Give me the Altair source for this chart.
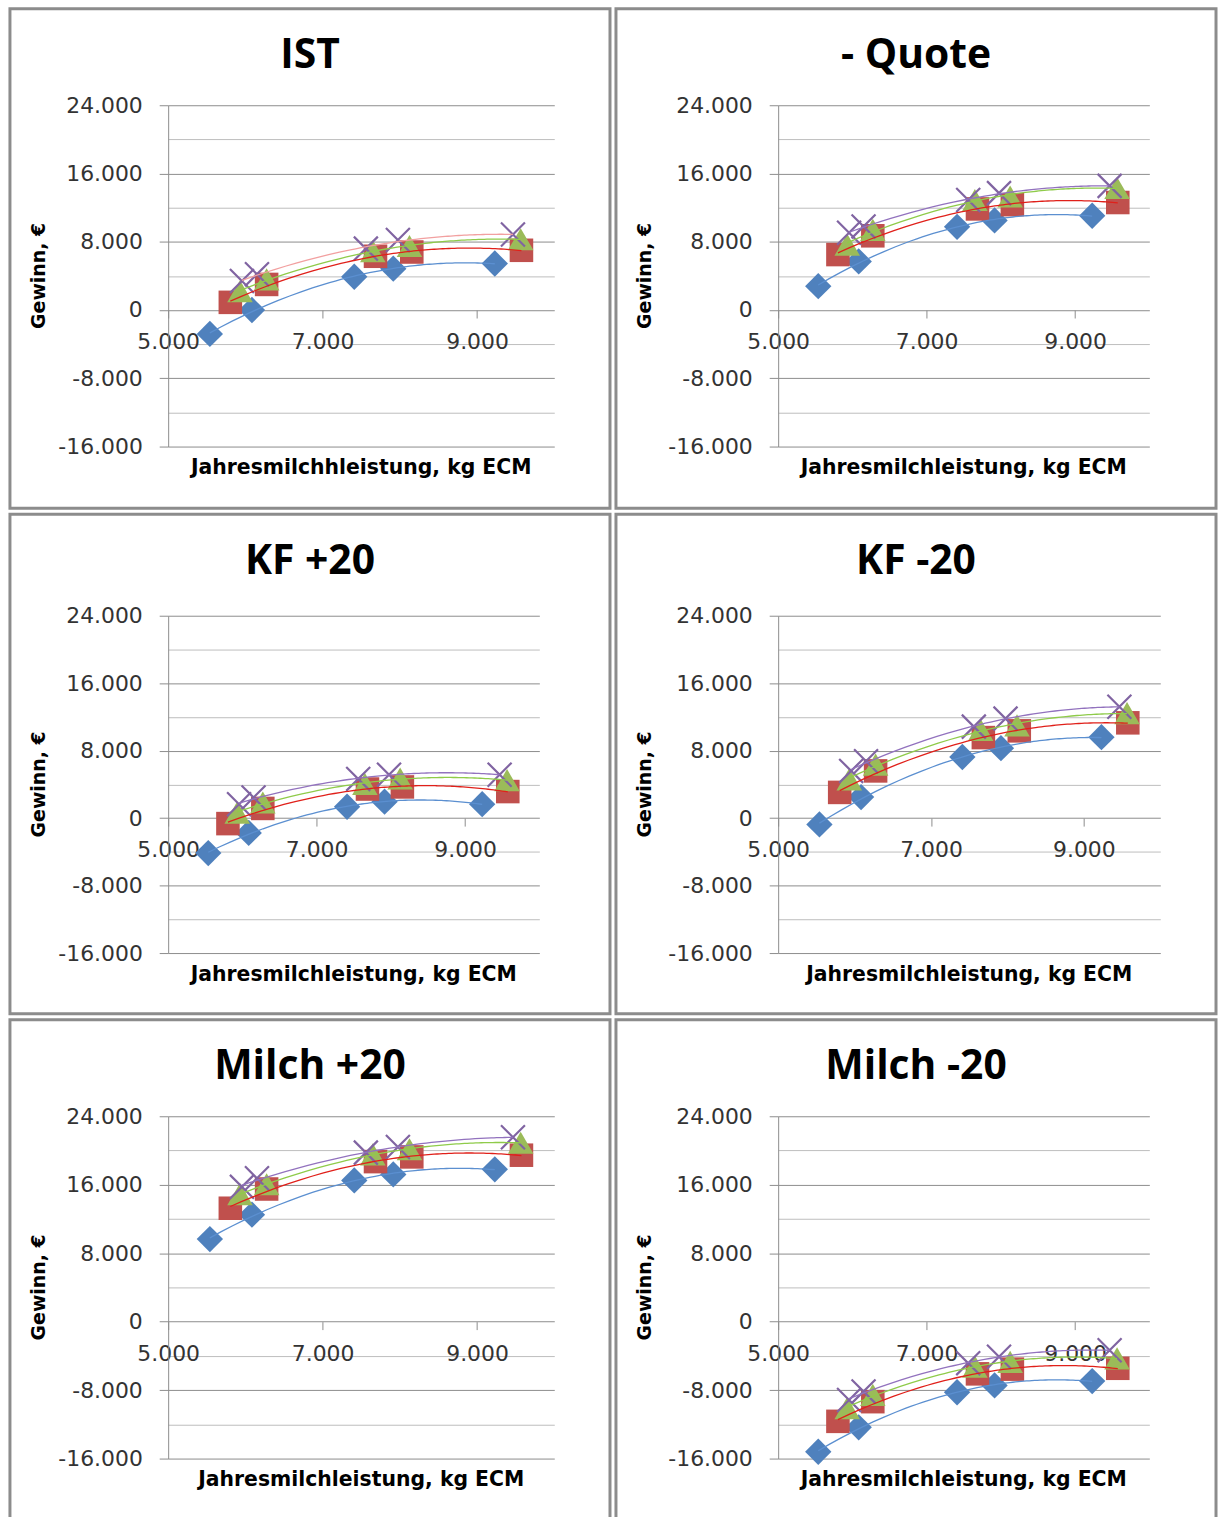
import altair as alt
import pandas as pd

# ---------------- data ----------------
panel_titles = ["IST", "- Quote", "KF +20", "KF -20", "Milch +20", "Milch -20"]
x_titles = ["Jahresmilchhleistung, kg ECM", "Jahresmilchleistung, kg ECM",
            "Jahresmilchleistung, kg ECM", "Jahresmilchleistung, kg ECM",
            "Jahresmilchleistung, kg ECM", "Jahresmilchleistung, kg ECM"]
y_title = "Gewinn, €"

# Jahresmilchleistung (kg ECM) of each group - same in every scenario
x_blue = [5540, 6085, 7410, 7915, 9230]
x_red = [5805, 6275, 7685, 8155, 9575]
x_green = [5930, 6275, 7650, 8125, 9565]
x_purple = [5955, 6150, 7560, 7975, 9465]

# Gewinn (EUR)
ist_blue = [-2800, 0, 3900, 4850, 5450]
ist_red = [900, 3000, 6300, 6800, 7000]
ist_green = [2200, 3600, 6900, 7500, 8300]
ist_purple = [3400, 4200, 7200, 8200, 8850]

quote_blue = [2800, 5700, 9750, 10500, 11050]
quote_red = [6500, 8700, 11850, 12350, 12600]
quote_green = [7650, 9400, 12900, 13300, 14300]
quote_purple = [9050, 9800, 12900, 13700, 14550]

kfp_blue = [-4150, -1750, 1350, 1950, 1650]
kfp_red = [-650, 1150, 3450, 3700, 3150]
kfp_green = [650, 1850, 4050, 4700, 4500]
kfp_purple = [1650, 2450, 4650, 5150, 5150]

kfm_blue = [-750, 2500, 7250, 8300, 9600]
kfm_red = [3050, 5600, 9550, 10350, 11300]
kfm_green = [4600, 6350, 10450, 11000, 12450]
kfm_purple = [5600, 6750, 10850, 11800, 13200]

mp_blue = [9650, 12500, 16500, 17200, 17800]
mp_red = [13250, 15500, 18700, 19250, 19450]
mp_green = [14900, 16050, 19550, 20150, 20900]
mp_purple = [15750, 16750, 19750, 20400, 21550]

mm_blue = [-15200, -12350, -8250, -7450, -6950]
mm_red = [-11650, -9350, -6100, -5550, -5450]
mm_green = [-10100, -8550, -5250, -4700, -4300]
mm_purple = [-9150, -8150, -4850, -4100, -3350]

panel_values = [
    [ist_blue, ist_red, ist_green, ist_purple],
    [quote_blue, quote_red, quote_green, quote_purple],
    [kfp_blue, kfp_red, kfp_green, kfp_purple],
    [kfm_blue, kfm_red, kfm_green, kfm_purple],
    [mp_blue, mp_red, mp_green, mp_purple],
    [mm_blue, mm_red, mm_green, mm_purple],
]
series_x = [x_blue, x_red, x_green, x_purple]

y_ticks = [-16000, -12000, -8000, -4000, 0, 4000, 8000, 12000, 16000, 20000, 24000]
x_ticks = [5000, 7000, 9000]

# ---------------- styles / layout ----------------
marker_colors = ["#4F81BD", "#C0504D", "#9BBB59", "#8064A2"]
trend_default = ["#5B8FD0", "#E0201A", "#8FCB4A", "#9272BE"]
trend_ist = ["#5B8FD0", "#E0201A", "#8FCB4A", "#F2A0A0"]
shapes = ["diamond", "square", "triangle-up", "M-1,-1L1,1M-1,1L1,-1"]
sizes = [700, 560, 660, 580]

BOX_W, BOX_H = 603, 502
# plot-left offset, plot-top offset, plot width, plot height (inside each panel box)
geoms = [
    (159, 97, 388, 343),
    (163, 97, 373, 343),
    (159, 102, 373, 339),
    (163, 102, 384, 339),
    (159, 97, 388, 344),
    (163, 97, 373, 344),
]

LABEL_FONT = "DejaVu Sans"
TITLE_FONT = "Open Sans"
GRID_MAJOR = "#8c8c8c"
GRID_MINOR = "#bdbdbd"

one_row = pd.DataFrame({"k": [0]})


def make_panel(i):
    pl, pt, w, h = geoms[i]
    trend_colors = trend_ist if i == 0 else trend_default

    xscale = alt.Scale(domain=[5000, 10000], nice=False, zero=False)
    yscale = alt.Scale(domain=[-16000, 24000], nice=False, zero=False)
    xaxis = alt.Axis(
        values=x_ticks, title=None, grid=False, domain=False,
        offset=-0.4 * h, tickColor=GRID_MAJOR, tickSize=8, labelPadding=14,
        labelFont=LABEL_FONT, labelFontSize=22, labelColor="#333333",
        labelFlush=False, labelOverlap=False,
        labelExpr="(datum.value / 1000) + '.000'",
    )
    yaxis = alt.Axis(
        values=y_ticks, title=None, grid=True,
        gridColor={"condition": {"test": "datum.value % 8000 === 0", "value": GRID_MAJOR},
                   "value": GRID_MINOR},
        tickColor={"condition": {"test": "datum.value % 8000 === 0", "value": GRID_MAJOR},
                   "value": "transparent"},
        domainColor=GRID_MAJOR, tickSize=9, labelPadding=17,
        labelFont=LABEL_FONT, labelFontSize=22, labelColor="#333333",
        labelFlush=False, labelOverlap=False,
        labelExpr="datum.value % 8000 === 0 ? (datum.value === 0 ? '0' : (datum.value / 1000) + '.000') : ''",
    )

    layers = []
    # panel frame
    layers.append(
        alt.Chart(one_row).mark_rect(fill="white", fillOpacity=0, stroke="#8c8c8c", strokeWidth=3)
        .encode(x=alt.value(-pl), x2=alt.value(BOX_W - pl),
                y=alt.value(-pt), y2=alt.value(BOX_H - pt))
    )
    # markers
    for s in range(4):
        df = pd.DataFrame({"x": series_x[s], "y": panel_values[i][s]})
        if s < 3:
            mk = alt.Chart(df).mark_point(shape=shapes[s], filled=True, size=sizes[s],
                                          color=marker_colors[s], opacity=1)
        else:
            mk = alt.Chart(df).mark_point(shape=shapes[s], filled=False, size=sizes[s],
                                          color=marker_colors[s], strokeWidth=2.2, opacity=1)
        layers.append(mk.encode(
            x=alt.X("x:Q", scale=xscale, axis=xaxis),
            y=alt.Y("y:Q", scale=yscale, axis=yaxis),
        ))
    # polynomial trend lines (order 2)
    for s in range(4):
        df = pd.DataFrame({"x": series_x[s], "y": panel_values[i][s]})
        layers.append(
            alt.Chart(df)
            .transform_regression("x", "y", method="poly", order=2)
            .mark_line(color=trend_colors[s], strokeWidth=1.3)
            .encode(x=alt.X("x:Q", scale=xscale, axis=xaxis),
                    y=alt.Y("y:Q", scale=yscale, axis=yaxis))
        )
    # panel title
    layers.append(
        alt.Chart(one_row).mark_text(font=TITLE_FONT, fontWeight="bold", fontSize=41,
                                     color="black", align="center", baseline="middle")
        .encode(x=alt.value(BOX_W / 2 - pl), y=alt.value(48 - pt),
                text=alt.value(panel_titles[i]))
    )
    # y axis title
    layers.append(
        alt.Chart(one_row).mark_text(font=LABEL_FONT, fontWeight="bold", fontSize=19,
                                     color="black", align="center", baseline="middle", angle=270)
        .encode(x=alt.value(29 - pl), y=alt.value(h / 2), text=alt.value(y_title))
    )
    # x axis title
    layers.append(
        alt.Chart(one_row).mark_text(font=LABEL_FONT, fontWeight="bold", fontSize=20.5,
                                     color="black", align="center", baseline="middle")
        .encode(x=alt.value(w / 2), y=alt.value(h + 22), text=alt.value(x_titles[i]))
    )
    return alt.layer(*layers).properties(width=w, height=h)


panels = [make_panel(i) for i in range(6)]
chart = (
    alt.vconcat(
        alt.hconcat(panels[0], panels[1], spacing=2),
        alt.hconcat(panels[2], panels[3], spacing=2),
        alt.hconcat(panels[4], panels[5], spacing=2),
        spacing=2,
    )
    .properties(padding={"left": 8, "top": 3, "right": 0, "bottom": 0}, background="white")
    .configure_view(stroke=None)
)

chart.save("out.html", embed_options={"renderer": "svg", "actions": False})
